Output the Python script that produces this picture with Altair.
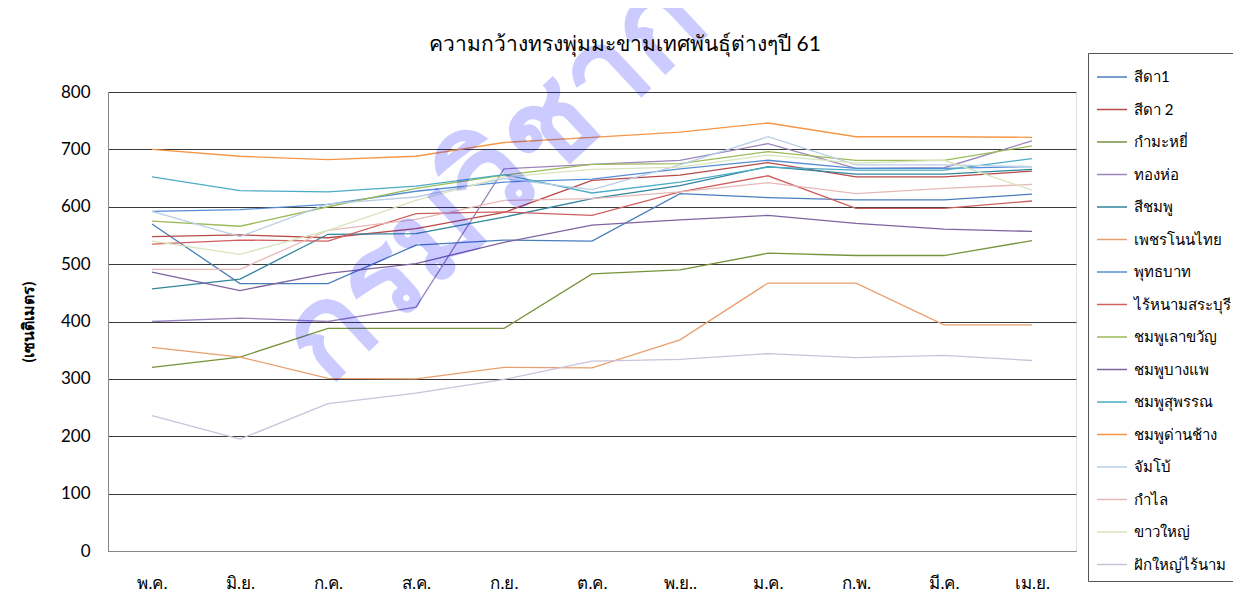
import altair as alt
import pandas as pd

months = ["พ.ค.", "มิ.ย.", "ก.ค.", "ส.ค.", "ก.ย.", "ต.ค.", "พ.ย..", "ม.ค.", "ก.พ.", "มี.ค.", "เม.ย."]

series_names = ["สีดา1", "สีดา 2", "กำมะหยี่", "ทองห่อ", "สีชมพู", "เพชรโนนไทย", "พุทธบาท",
                "ไร้หนามสระบุรี", "ชมพูเลาขวัญ", "ชมพูบางแพ", "ชมพูสุพรรณ", "ชมพูด่านช้าง",
                "จัมโบ้", "กำไล", "ขาวใหญ่", "ฝักใหญ่ไร้นาม"]

series_colors = ["#4A7EBB", "#B84A47", "#77933C", "#9A84BC", "#31859C", "#E8A070", "#558ED5",
                 "#D06060", "#9BBB59", "#7D64A0", "#4BACC6", "#F79646",
                 "#B9CDE5", "#E6B9B8", "#D7E4BD", "#CCC1DA"]

sida1 = [570, 466, 466, 533, 542, 540, 623, 616, 612, 612, 622]
sida2 = [548, 551, 546, 562, 590, 646, 655, 677, 652, 652, 662]
kammayee = [320, 338, 388, 388, 388, 483, 490, 519, 515, 515, 541]
thonghor = [400, 406, 400, 425, 666, 674, 681, 710, 667, 668, 715]
seechompoo = [457, 474, 552, 553, 582, 614, 637, 670, 657, 657, 665]
petnonthai = [355, 338, 301, 300, 320, 319, 368, 467, 467, 394, 394]
puttabat = [592, 595, 604, 627, 643, 648, 666, 681, 667, 667, 670]
rainam = [535, 542, 540, 588, 591, 585, 626, 654, 597, 597, 610]
laokwan = [575, 566, 600, 632, 655, 674, 675, 696, 681, 681, 706]
bangpae = [486, 454, 484, 501, 538, 568, 577, 585, 571, 561, 557]
suphan = [652, 628, 626, 636, 656, 624, 643, 669, 664, 664, 684]
danchang = [700, 688, 682, 688, 712, 721, 730, 746, 722, 722, 721]
jumbo = [592, 548, 605, 617, 649, 630, 673, 722, 673, 673, 670]
kamlai = [491, 491, 559, 578, 611, 614, 626, 642, 623, 632, 639]
khawyai = [540, 517, 559, 611, 652, 665, 669, 690, 676, 681, 629]
fakyai = [236, 195, 257, 275, 299, 331, 334, 344, 337, 341, 332]

all_values = [sida1, sida2, kammayee, thonghor, seechompoo, petnonthai, puttabat, rainam,
              laokwan, bangpae, suphan, danchang, jumbo, kamlai, khawyai, fakyai]

rows = []
for name, vals in zip(series_names, all_values):
    for m, v in zip(months, vals):
        rows.append({"series": name, "month": m, "value": v})
df = pd.DataFrame(rows)

title_text = "ความกว้างทรงพุ่มมะขามเทศพันธุ์ต่างๆปี 61"
y_title = "(เซนติเมตร)"
watermark = "กรมวิชาการเกษตร"

FONT = "Lato"

lines = alt.Chart(df).mark_line(strokeWidth=1.3).encode(
    x=alt.X("month:N", sort=months, scale=alt.Scale(type="point", padding=0.5),
            axis=alt.Axis(title=None, labelAngle=0, ticks=False, labelPadding=24,
                          labelFontSize=17, labelColor="#000", domainColor="#868686",
                          labelFont=FONT, grid=False)),
    y=alt.Y("value:Q", scale=alt.Scale(domain=[0, 800], nice=False),
            axis=alt.Axis(title=y_title, values=list(range(0, 801, 100)), ticks=False,
                          labelPadding=18, labelFontSize=17, labelColor="#000",
                          titleFontSize=16, titleFontWeight="bold", titleColor="#000",
                          titlePadding=24, labelFont=FONT, titleFont=FONT,
                          domainColor="#868686", gridColor="#3a3a3a", gridWidth=1.2)),
    color=alt.Color("series:N", sort=series_names,
                    scale=alt.Scale(domain=series_names, range=series_colors),
                    legend=alt.Legend(title=None, orient="none", legendX=980, legendY=-39,
                                      symbolType="stroke", symbolSize=900,
                                      symbolStrokeWidth=1.5, labelFontSize=15,
                                      labelFont=FONT, labelColor="#000", rowPadding=8.5,
                                      padding=8, strokeColor="#555", labelOffset=6,
                                      labelLimit=200)),
)

wm = alt.Chart(pd.DataFrame({"t": [watermark]})).mark_text(
    angle=317, align="left", baseline="alphabetic", fontSize=125, fontWeight="bold",
    color="#0000FF", opacity=0.2, font=FONT
).encode(text="t:N", x=alt.value(220), y=alt.value(295))

title = alt.Chart(pd.DataFrame({"t": [title_text]})).mark_text(
    align="center", baseline="middle", fontSize=21, font=FONT, color="#000"
).encode(text="t:N", x=alt.value(517), y=alt.value(-47))

chart = alt.layer(lines, wm, title).properties(
    width=968, height=459,
    autosize=alt.AutoSizeParams(type="none"),
    padding={"left": 100, "top": 84, "right": 157, "bottom": 54},
).configure_view(stroke="#868686").configure(background="white")

chart.save("out.html", embed_options={"renderer": "svg", "actions": False})
